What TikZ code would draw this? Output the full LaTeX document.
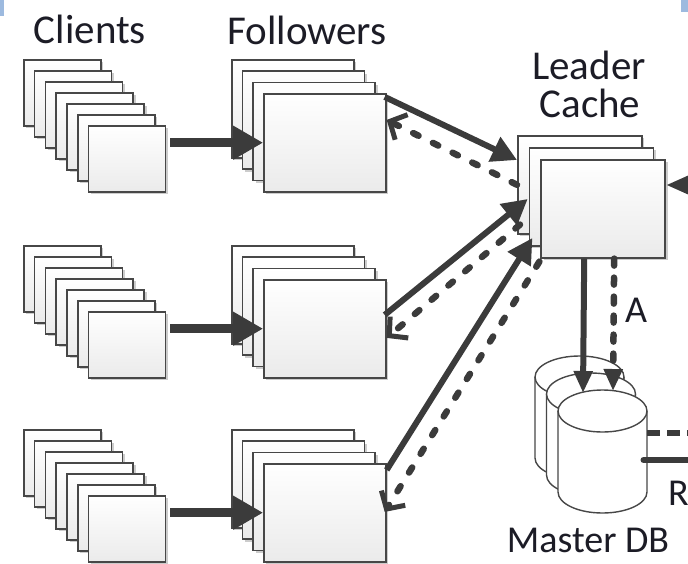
\documentclass[tikz,border=0pt]{standalone}
\usepackage{fontspec}
\setmainfont{Carlito}
\usetikzlibrary{arrows.meta,calc,shadows}
\definecolor{ink}{HTML}{3B3B3B}
\definecolor{frame}{HTML}{474747}
\definecolor{words}{HTML}{1C1C26}
\definecolor{tab}{HTML}{9DBADF}
\begin{document}
\begin{tikzpicture}[x=1pt,y=-1pt,
  card/.style={draw=frame,line width=1.6pt,top color=white,bottom color=black!8,inner sep=0pt,anchor=north west,
    drop shadow={shadow xshift=2.5pt,shadow yshift=-2.5pt,opacity=0.2,fill=black}},
  clientbox/.style={card,minimum width=77pt,minimum height=66pt},
  followerbox/.style={card,minimum width=122pt,minimum height=98pt},
  leaderbox/.style={card,minimum width=124pt,minimum height=98pt},
  lbl/.style={font=\fontsize{41}{41}\selectfont,text=words,inner sep=0pt,anchor=base},
  lblsmall/.style={lbl,font=\fontsize{38}{38}\selectfont},
  feed/.style={draw=ink,line width=9pt,shorten <=4pt,-{Triangle[length=30pt,width=32pt]}},
  req/.style={draw=ink,line width=6pt,-{Triangle[length=25pt,width=26pt]}},
  reply/.style={draw=ink,line width=6.5pt,line cap=round,dash pattern=on 6pt off 16pt,
    -{Straight Barb[length=13pt,width=28pt,line width=5pt]}},
  dbfeed/.style={draw=ink,line width=6pt,-{Triangle[length=22pt,width=18pt]}},
  dbfeeddash/.style={dbfeed,line width=6.5pt,line cap=round,dash pattern=on 7pt off 12pt},
  dbline/.style={draw=frame,line width=1.4pt,fill=white}
]
\useasboundingbox (0,0) rectangle (688,563);
\clip (0,0) rectangle (688,563);

% client stacks, follower stacks and the feed arrows between them
\foreach \g/\dy in {1/0,2/186,3/370}{
  \foreach \i in {0,...,6}
    \node[clientbox] (C\g\i) at ({23+10.8*\i},{59+\dy+11*\i}) {};
  \foreach \i in {0,...,3}
    \node[followerbox] (F\g\i) at ({231+10.7*\i},{59+\dy+11.3*\i}) {};
  \draw[feed] (C\g6.east |- F\g3.west) -- (F\g3.west);
}

% leader cache stack
\foreach \i in {0,1,2}
  \node[leaderbox] (L\i) at ({517+11.7*\i},{135+12*\i}) {};

% master database cylinders
\foreach \cx/\ty in {579.5/377,591/394,602.5/411}{
  \draw[dbline] ({\cx-44.5},\ty) -- ({\cx-44.5},{\ty+81})
    arc[start angle=180,end angle=0,x radius=44.5,y radius=21] -- ({\cx+44.5},\ty);
  \draw[dbline] (\cx,\ty) ellipse[x radius=44.5,y radius=21];
}
\coordinate (db) at (602.5,411);

% followers <-> leader
\draw[req] ($(F13.north east)+(-2,4)$) -- ($(L0.north west)+(0,25)$);
\draw[reply] (L0.west) -- ($(F13.north east)+(0,27)$);
\draw[req] ($(F23.north east)+(-2,36)$) -- ($(L1.north west)+(-1,52)$);
\draw[reply] ($(L0.south west)+(3,-10)$) -- ($(F23.north east)+(0,59)$);
\draw[req] ($(F33.north east)+(0,7)$) -- ($(L2.north west)+(-8,79)$);
\draw[reply] ($(L2.south west)+(-1,3)$) -- ($(F33.north east)+(-2,49)$);

% leader -> master DB
\draw[dbfeed] ($(L2.south)+(-19,0)$) -- ($(db)+(-19.5,-18)$);
\draw[dbfeeddash] ($(L2.south)+(11,0)$) -- ($(db)+(10.5,-20)$);

% links leaving on the right
\coordinate (eastA) at (700,185);
\coordinate (eastB) at (700,433);
\coordinate (eastC) at (700,460);
\draw[draw=ink,line width=6pt,-{Triangle[length=22pt,width=17pt]}] (eastA) -- ($(L2.north east)+(0,26)$);
\draw[draw=ink,line width=5.5pt,dash pattern=on 13pt off 7pt] ($(db)+(44.5,22)$) -- (eastB);
\draw[draw=ink,line width=6pt,line cap=round] (eastC) -- ($(db)+(41,49)$);

% labels
\node[lbl] (clients) at (90,43) {Clients};
\node[lbl] (followers) at (307,44) {Followers};
\node[lbl] (leader) at (589,79) {Leader};
\node[lbl] (cache) at (590,117) {Cache};
\node[lblsmall] (master) at (588,552) {Master DB};
\node[lblsmall] (ltrA) at (636,322) {A};
\node[lblsmall,anchor=base west] (ltrR) at (668,505) {R};

% window tabs at the top corners
\fill[tab] (0,0) rectangle (4,16);
\fill[tab] (681,0) rectangle (688,12);
\end{tikzpicture}
\end{document}
